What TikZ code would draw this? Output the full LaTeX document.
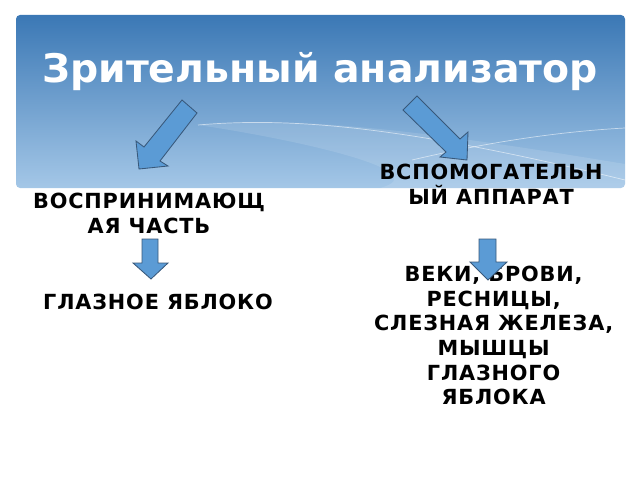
\documentclass[tikz,border=0pt]{standalone}
\usepackage{fontspec}
\setmainfont{DejaVu Sans}
\newfontfamily\spacedfont[LetterSpace=4]{DejaVu Sans}
\usepackage{tikz}
\definecolor{bantop}{HTML}{3B78B5}
\definecolor{banbot}{HTML}{A4C7E7}
\definecolor{arrfill}{HTML}{5B9BD5}
\definecolor{arrline}{HTML}{38587A}

\begin{document}
\begin{tikzpicture}[txt/.style={align=center, font=\spacedfont\bfseries\fontsize{14.8}{17.5}\selectfont, inner sep=1pt}, arr/.style={fill=arrfill, draw=arrline, line width=0.6pt, line join=miter}]
    \useasboundingbox (0,0) rectangle (16,12);
    \shade[top color=bantop, bottom color=banbot, rounded corners=0.1cm] (0.4,7.3) rectangle (15.625,11.625);
    \fill[white, opacity=0.12] (4.95,8.875) .. controls (7.5,9.1) and (10.5,8.75) .. (15.625,7.9) -- (15.625,7.3) -- (9.5,7.3) .. controls (11,7.7) and (7.5,8.5) .. (4.95,8.875);
    \draw[white, opacity=0.55, line width=0.5pt] (4.95,8.875) .. controls (7.5,9.1) and (10.5,8.75) .. (15.625,7.5);
    \draw[white, opacity=0.55, line width=0.5pt] (10.3,8.0) .. controls (12,8.4) and (13.8,8.7) .. (15.625,8.8);

    \node (title) at (8,10.2) [text=white, font=\bfseries\fontsize{28}{32}\selectfont] {Зрительный анализатор};

    \draw[arr] (3.475,7.775) -- (3.4,8.475) -- (3.6,8.325) -- (4.55,9.5) -- (4.925,9.175) -- (4.0,7.975) -- (4.2,7.85) -- cycle;
    \draw[arr] (11.675,8.0) -- (11.7,8.7) -- (11.5,8.525) -- (10.425,9.6) -- (10.075,9.25) -- (11.15,8.2) -- (11.0,8.075) -- cycle;

    \node[txt] (perc) at (3.725,6.66) {ВОСПРИНИМАЮЩ\\АЯ ЧАСТЬ};
    \node[txt] (eye) at (3.95,4.45) {ГЛАЗНОЕ ЯБЛОКО};
    \node[txt] (aux) at (12.275,7.4) {ВСПОМОГАТЕЛЬН\\ЫЙ АППАРАТ};
    \node[txt] (parts) at (12.34,3.61) {ВЕКИ, БРОВИ,\\РЕСНИЦЫ,\\СЛЕЗНАЯ ЖЕЛЕЗА,\\МЫШЦЫ\\ГЛАЗНОГО\\ЯБЛОКА};

    \draw[arr] (3.775,5.025) -- (4.2,5.425) -- (3.95,5.425) -- (3.95,6.025) -- (3.55,6.025) -- (3.55,5.425) -- (3.325,5.425) -- cycle;
    \draw[arr] (12.2,5.0) -- (12.675,5.45) -- (12.4,5.45) -- (12.4,6.025) -- (11.975,6.025) -- (11.975,5.45) -- (11.75,5.45) -- cycle;
\end{tikzpicture}
\end{document}
